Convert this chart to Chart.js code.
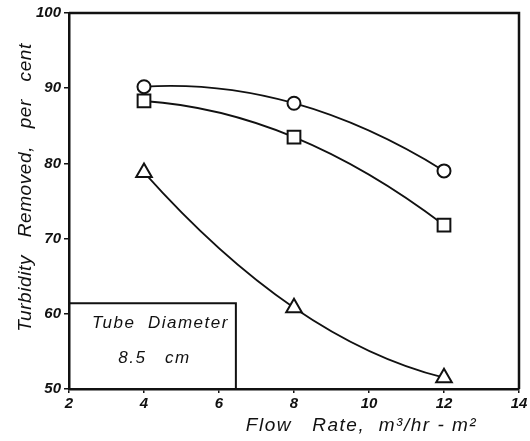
<!DOCTYPE html>
<html>
<head>
<meta charset="utf-8">
<script src="https://cdn.jsdelivr.net/npm/chart.js@4.4.1/dist/chart.umd.min.js"></script>
<style>
  html, body { margin: 0; padding: 0; background: #fff; }
  #wrap { width: 530px; height: 441px; position: relative; }
</style>
</head>
<body>
<div id="wrap"><canvas id="turbChart"></canvas></div>
<script>
// flow rate (m3/hr-m2) and turbidity removed (%)
const flowRates = [4, 8, 12];
const circleSeries = [90.2, 88.0, 79.0];
const squareSeries = [88.3, 83.5, 71.8];
const triangleSeries = [78.8, 60.8, 51.5];
const xTicks = [2, 4, 6, 8, 10, 12, 14];
const yTicks = [50, 60, 70, 80, 90, 100];
const xTitle = 'Flow   Rate,  m³/hr - m²';
const yTitle = 'Turbidity   Removed,   per   cent';
const boxLines = ['Tube  Diameter', '8.5   cm'];
const boxCorner = [6.45, 61.4]; // box extent in data units

const hand = '"Liberation Sans", "DejaVu Sans", sans-serif';

function pts(vals) {
  return flowRates.map((x, i) => ({ x: x, y: vals[i] }));
}

function series(vals, style, r) {
  return {
    data: pts(vals),
    showLine: true,
    tension: 0.4,
    borderColor: '#111',
    borderWidth: 1.8,
    pointStyle: style,
    pointRadius: r,
    pointBorderWidth: 2,
    pointBackgroundColor: '#fff',
    pointBorderColor: '#111'
  };
}

// bend each 3-point line into a smooth arc: tangents taken from the
// parabola through the three pixel positions
const arcPlugin = {
  id: 'arc',
  beforeDatasetDraw(chart, args) {
    const line = args.meta.dataset;
    const p = args.meta.data;
    if (!line || p.length !== 3) return;
    line.updateControlPoints(chart.chartArea);
    const slope = (x) => {
      const [a, b, c] = p;
      return a.y * ((x - b.x) + (x - c.x)) / ((a.x - b.x) * (a.x - c.x)) +
             b.y * ((x - a.x) + (x - c.x)) / ((b.x - a.x) * (b.x - c.x)) +
             c.y * ((x - a.x) + (x - b.x)) / ((c.x - a.x) * (c.x - b.x));
    };
    const m = p.map(pt => slope(pt.x));
    for (let i = 0; i < p.length; i++) {
      const pt = p[i];
      if (i > 0) {
        const h = (pt.x - p[i - 1].x) / 3;
        pt.cp1x = pt.x - h;
        pt.cp1y = pt.y - h * m[i];
      }
      if (i < p.length - 1) {
        const h = (p[i + 1].x - pt.x) / 3;
        pt.cp2x = pt.x + h;
        pt.cp2y = pt.y + h * m[i];
      }
    }
  }
};

// frame on top/right, axis titles and the label box in the lower left corner
const framePlugin = {
  id: 'frame',
  beforeDatasetsDraw(chart) {
    const { ctx, chartArea: a, scales } = chart;
    ctx.save();
    ctx.strokeStyle = '#111';
    ctx.lineWidth = 2.5;
    ctx.beginPath();
    ctx.moveTo(a.left, a.top);
    ctx.lineTo(a.right, a.top);
    ctx.lineTo(a.right, a.bottom);
    ctx.stroke();

    const bx = scales.x.getPixelForValue(boxCorner[0]);
    const by = scales.y.getPixelForValue(boxCorner[1]);
    ctx.lineWidth = 2;
    ctx.beginPath();
    ctx.moveTo(a.left, by);
    ctx.lineTo(bx, by);
    ctx.lineTo(bx, a.bottom);
    ctx.stroke();

    ctx.fillStyle = '#111';
    ctx.font = 'italic 17px ' + hand;
    ctx.letterSpacing = '1.5px';
    ctx.textAlign = 'center';
    ctx.textBaseline = 'middle';
    const cx = (a.left + bx) / 2 + 8;
    ctx.fillText(boxLines[0], cx, by + 20);
    ctx.fillText(boxLines[1], cx - 6, by + 55);

    // axis titles
    ctx.font = 'italic 19px ' + hand;
    ctx.letterSpacing = '1.5px';
    ctx.fillText(xTitle, scales.x.getPixelForValue(9.8), a.bottom + 37);

    ctx.letterSpacing = '0.6px';
    ctx.translate(26, scales.y.getPixelForValue(76.8));
    ctx.rotate(-Math.PI / 2);
    ctx.fillText(yTitle, 0, 0);
    ctx.restore();
  }
};

new Chart(document.getElementById('turbChart'), {
  type: 'scatter',
  data: {
    datasets: [
      series(circleSeries, 'circle', 6.5),
      series(squareSeries, 'rect', 9),
      series(triangleSeries, 'triangle', 9)
    ]
  },
  options: {
    responsive: true,
    maintainAspectRatio: false,
    animation: false,
    layout: { padding: { top: 13, right: 4, left: 0, bottom: 0 } },
    plugins: {
      legend: { display: false },
      tooltip: { enabled: false }
    },
    scales: {
      x: {
        min: 2, max: 14,
        afterBuildTicks(s) { s.ticks = xTicks.map(v => ({ value: v })); },
        afterFit(s) { s.height = 52; },
        grid: { display: true, drawOnChartArea: false, tickLength: 4, color: '#111', lineWidth: 1.5 },
        border: { display: true, color: '#111', width: 2.5 },
        ticks: { color: '#111', padding: 2, font: { family: hand, size: 15, style: 'italic', weight: 'bold' } }
      },
      y: {
        min: 50, max: 100,
        afterBuildTicks(s) { s.ticks = yTicks.map(v => ({ value: v })); },
        afterFit(s) { s.width = 69; },
        grid: { display: true, drawOnChartArea: false, tickLength: 5, color: '#111', lineWidth: 1.5 },
        border: { display: true, color: '#111', width: 2.5 },
        ticks: { color: '#111', padding: 3, font: { family: hand, size: 15, style: 'italic', weight: 'bold' } }
      }
    }
  },
  plugins: [arcPlugin, framePlugin]
});
</script>
</body>
</html>
